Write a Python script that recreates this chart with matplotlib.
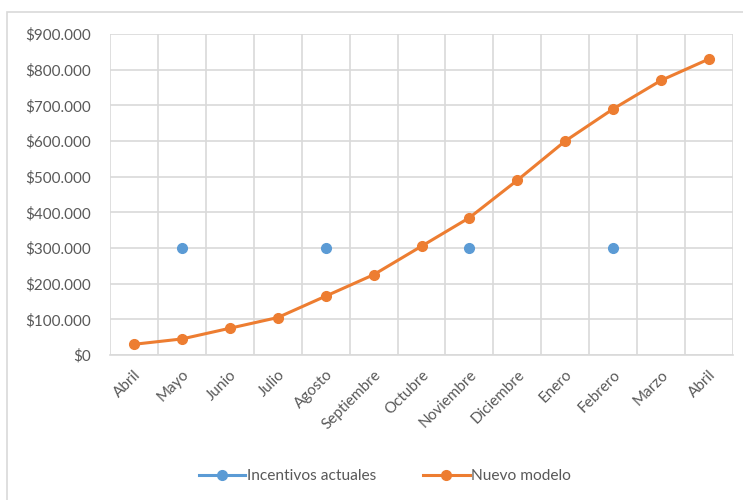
import numpy as np
import matplotlib.pyplot as plt
from matplotlib.patches import Rectangle
from matplotlib.ticker import FuncFormatter, MultipleLocator

plt.rcParams['font.family'] = ['Lato', 'DejaVu Sans']

# monthly data
meses = ['Abril', 'Mayo', 'Junio', 'Julio', 'Agosto', 'Septiembre', 'Octubre',
         'Noviembre', 'Diciembre', 'Enero', 'Febrero', 'Marzo', 'Abril']
incentivos_actuales = [np.nan, 300000, np.nan, np.nan, 300000, np.nan, np.nan,
                       300000, np.nan, np.nan, 300000, np.nan, np.nan]
nuevo_modelo = [30000, 45000, 75000, 105000, 165000, 225000, 305000,
                385000, 490000, 600000, 690000, 770000, 830000]

azul = '#5B9BD5'
naranja = '#ED7D31'
gris_txt = '#595959'
gris_grid = '#D9D9D9'

fig = plt.figure(figsize=(7.43, 5.0), dpi=100)
fig.patches.append(Rectangle((7 / 743, -0.1), 1.2, 0.1 + (500 - 12) / 500,
                             transform=fig.transFigure, fill=False,
                             edgecolor=gris_grid, linewidth=1.2))

ax = fig.add_axes([110 / 743, (500 - 355) / 500, (733 - 110) / 743, 321 / 500])
x = np.arange(len(meses))

ax.plot(x, incentivos_actuales, color=azul, linewidth=2.2, marker='o',
        markersize=7, label='Incentivos actuales', zorder=3)
ax.plot(x, nuevo_modelo, color=naranja, linewidth=2.2, marker='o',
        markersize=7, label='Nuevo modelo', zorder=3)

ax.set_xlim(-0.5, len(meses) - 0.5)
ax.set_ylim(0, 900000)
ax.yaxis.set_major_locator(MultipleLocator(100000))
ax.yaxis.set_major_formatter(FuncFormatter(
    lambda v, p: '$' + f'{int(v):,}'.replace(',', '.')))

ax.set_xticks(x)
ax.set_xticklabels(meses, rotation=45, ha='right', va='top',
                   rotation_mode='anchor')
ax.set_xticks(np.arange(-0.5, len(meses)), minor=True)

ax.grid(axis='y', which='major', color=gris_grid, linewidth=1.2)
ax.grid(axis='x', which='minor', color=gris_grid, linewidth=1.2)
ax.set_axisbelow(True)

for s in ['top', 'right', 'left']:
    ax.spines[s].set_visible(False)
ax.spines['bottom'].set_color(gris_grid)
ax.spines['bottom'].set_linewidth(1.2)
ax.tick_params(which='both', length=0, colors=gris_txt, labelsize=11)
ax.tick_params(axis='y', pad=14)
ax.tick_params(axis='x', pad=9)

fig.legend(loc='center', bbox_to_anchor=(0.518, 0.048), ncol=2, frameon=False,
           fontsize=11.2, labelcolor=gris_txt, handlelength=3.0,
           handletextpad=0.1, columnspacing=3.0)

fig.savefig('out.png', dpi=100)
